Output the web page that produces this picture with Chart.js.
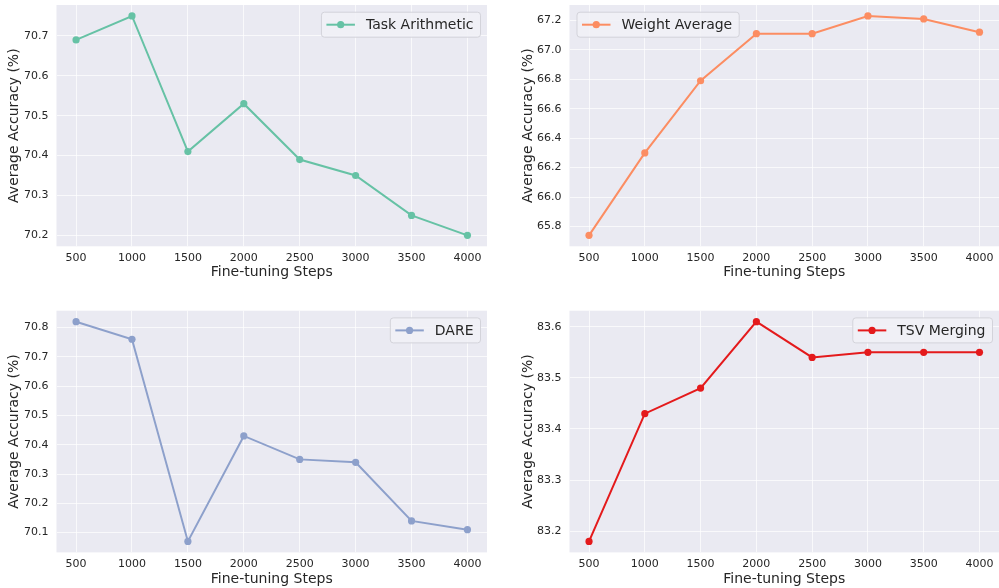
<!DOCTYPE html>
<html>
<head>
<meta charset="utf-8">
<script src="https://cdn.jsdelivr.net/npm/chart.js@4.4.1/dist/chart.umd.min.js"></script>
<style>
  html, body { margin: 0; padding: 0; background: #ffffff; }
  #page { position: relative; width: 999px; height: 588px; overflow: hidden; }
  .panel { position: absolute; }
  .panel canvas { display: block; }
</style>
</head>
<body>
<div id="page"></div>
<script>
// Fine-tuning steps (x values and x tick labels)
const steps = [500, 1000, 1500, 2000, 2500, 3000, 3500, 4000];

// Average accuracy (%) per merging method
const taskArithmetic = [70.69, 70.75, 70.41, 70.53, 70.39, 70.35, 70.25, 70.20];
const weightAverage  = [65.74, 66.30, 66.79, 67.11, 67.11, 67.23, 67.21, 67.12];
const dare           = [70.82, 70.76, 70.07, 70.43, 70.35, 70.34, 70.14, 70.11];
const tsvMerging     = [83.18, 83.43, 83.48, 83.61, 83.54, 83.55, 83.55, 83.55];

// Y tick labels for each panel
const ticksTaskArithmetic = [70.2, 70.3, 70.4, 70.5, 70.6, 70.7];
const ticksWeightAverage  = [65.8, 66.0, 66.2, 66.4, 66.6, 66.8, 67.0, 67.2];
const ticksDare           = [70.1, 70.2, 70.3, 70.4, 70.5, 70.6, 70.7, 70.8];
const ticksTsvMerging     = [83.2, 83.3, 83.4, 83.5, 83.6];

const FONT = "'DejaVu Sans', 'Liberation Sans', sans-serif";
const TEXT = '#262626';
const LABEL_SIZE = 14;
const TICK_SIZE = 11;
const GRID = 'rgba(255,255,255,0.7)';

// 5% padding around the data range, like matplotlib's default margins
function padded(values, frac) {
  const lo = Math.min(...values), hi = Math.max(...values);
  const m = (hi - lo) * frac;
  return [lo - m, hi + m];
}

// Panel geometry: canvas box and plotting area (page coordinates)
const panels = [
  { label: 'Task Arithmetic', values: taskArithmetic, yTicks: ticksTaskArithmetic, dec: 1,
    color: '#66c2a5', legend: 'right',
    box: { x: 0, y: 0, w: 495, h: 292 }, area: { l: 56.5, t: 5, r: 487, b: 246.3 },
    yTitleCenter: 14.3, xTitleCenter: 272.7 },
  { label: 'Weight Average', values: weightAverage, yTicks: ticksWeightAverage, dec: 1,
    color: '#fc8d62', legend: 'left',
    box: { x: 500, y: 0, w: 499, h: 292 }, area: { l: 569.5, t: 5, r: 999, b: 246.3 },
    yTitleCenter: 528.3, xTitleCenter: 272.7 },
  { label: 'DARE', values: dare, yTicks: ticksDare, dec: 1,
    color: '#8da0cb', legend: 'right',
    box: { x: 0, y: 292, w: 495, h: 296 }, area: { l: 56.5, t: 310.7, r: 487, b: 552.4 },
    yTitleCenter: 14.3, xTitleCenter: 579.3 },
  { label: 'TSV Merging', values: tsvMerging, yTicks: ticksTsvMerging, dec: 1,
    color: '#e41a1c', legend: 'right',
    box: { x: 500, y: 292, w: 499, h: 296 }, area: { l: 569.5, t: 310.7, r: 999, b: 552.4 },
    yTitleCenter: 528.3, xTitleCenter: 579.3 }
];

// Axes background fill
const axesBackground = {
  id: 'axesBackground',
  beforeDraw(chart) {
    const { ctx, chartArea: a } = chart;
    ctx.save();
    ctx.fillStyle = '#eaeaf2';
    ctx.fillRect(a.left, a.top, a.right - a.left, a.bottom - a.top);
    ctx.restore();
  }
};

// Legend drawn inside the plotting area, in an upper corner
const innerLegend = {
  id: 'innerLegend',
  afterDatasetsDraw(chart, args, opts) {
    const { ctx, chartArea: a } = chart;
    const ds = chart.data.datasets[0];
    ctx.save();
    ctx.font = LABEL_SIZE + 'px ' + FONT;
    const tw = ctx.measureText(ds.label).width;
    const padL = 5.5, sample = 28.5, gap = 11, padR = 6.5, h = 25, inset = 7;
    const w = padL + sample + gap + tw + padR;
    const x = opts.side === 'left' ? a.left + inset : a.right - inset - w;
    const y = a.top + 6.7;
    ctx.beginPath();
    ctx.roundRect(x + 0.5, y + 0.5, w, h, 3);
    ctx.fillStyle = 'rgba(241,241,246,0.9)';
    ctx.fill();
    ctx.strokeStyle = '#d3d3da';
    ctx.lineWidth = 1;
    ctx.stroke();
    const cy = y + h / 2 + 0.5;
    ctx.beginPath();
    ctx.moveTo(x + padL, cy);
    ctx.lineTo(x + padL + sample, cy);
    ctx.strokeStyle = ds.borderColor;
    ctx.lineWidth = 2;
    ctx.stroke();
    ctx.beginPath();
    ctx.arc(x + padL + sample / 2, cy, 3.6, 0, Math.PI * 2);
    ctx.fillStyle = ds.borderColor;
    ctx.fill();
    ctx.fillStyle = TEXT;
    ctx.textBaseline = 'middle';
    ctx.textAlign = 'left';
    ctx.fillText(ds.label, x + padL + sample + gap, cy + 0.5);
    ctx.restore();
  }
};

const page = document.getElementById('page');
const xRange = padded(steps, 0.05);

panels.forEach(p => {
  const div = document.createElement('div');
  div.className = 'panel';
  div.style.left = p.box.x + 'px';
  div.style.top = p.box.y + 'px';
  div.style.width = p.box.w + 'px';
  div.style.height = p.box.h + 'px';
  const canvas = document.createElement('canvas');
  canvas.width = p.box.w;
  canvas.height = p.box.h;
  canvas.style.width = p.box.w + 'px';
  canvas.style.height = p.box.h + 'px';
  div.appendChild(canvas);
  page.appendChild(div);

  const yAxisWidth = p.area.l - p.box.x;
  const xAxisHeight = p.box.y + p.box.h - p.area.b;
  const padTop = p.area.t - p.box.y;
  const padRight = p.box.x + p.box.w - p.area.r;
  const yRange = padded(p.values, 0.05);
  const titleLH = LABEL_SIZE * 1.2;

  new Chart(canvas, {
    type: 'line',
    data: {
      datasets: [{
        label: p.label,
        data: steps.map((s, i) => ({ x: s, y: p.values[i] })),
        borderColor: p.color,
        backgroundColor: p.color,
        pointBackgroundColor: p.color,
        pointBorderColor: p.color,
        borderWidth: 2,
        pointRadius: 3.6,
        pointBorderWidth: 0,
        tension: 0,
        fill: false,
        clip: false
      }]
    },
    options: {
      responsive: false,
      maintainAspectRatio: false,
      animation: false,
      devicePixelRatio: 1,
      layout: { autoPadding: false, padding: { top: padTop, right: padRight, left: 0, bottom: 0 } },
      plugins: {
        legend: { display: false },
        tooltip: { enabled: false },
        innerLegend: { side: p.legend }
      },
      scales: {
        x: {
          type: 'linear',
          min: xRange[0],
          max: xRange[1],
          afterBuildTicks: s => { s.ticks = steps.map(v => ({ value: v })); },
          afterFit: s => {
            s.height = xAxisHeight;
            s.paddingLeft = 0; s.paddingRight = 0;
          },
          grid: { color: GRID, lineWidth: 1, drawTicks: false },
          border: { display: false },
          ticks: {
            padding: 5,
            maxRotation: 0,
            autoSkip: false,
            color: TEXT,
            font: { family: FONT, size: TICK_SIZE },
            callback: v => String(v)
          },
          title: {
            display: true,
            text: 'Fine-tuning Steps',
            color: TEXT,
            font: { family: FONT, size: LABEL_SIZE, lineHeight: 1.2 },
            padding: { top: 0, bottom: (p.box.y + p.box.h) - p.xTitleCenter - titleLH / 2 }
          }
        },
        y: {
          type: 'linear',
          min: yRange[0],
          max: yRange[1],
          afterBuildTicks: s => { s.ticks = p.yTicks.map(v => ({ value: v })); },
          afterFit: s => {
            s.width = yAxisWidth;
            s.paddingTop = 0; s.paddingBottom = 0;
          },
          grid: { color: GRID, lineWidth: 1, drawTicks: false },
          border: { display: false },
          ticks: {
            padding: 8,
            autoSkip: false,
            color: TEXT,
            font: { family: FONT, size: TICK_SIZE },
            callback: v => Number(v).toFixed(p.dec)
          },
          title: {
            display: true,
            text: 'Average Accuracy (%)',
            color: TEXT,
            font: { family: FONT, size: LABEL_SIZE, lineHeight: 1.2 },
            padding: { top: p.yTitleCenter - p.box.x - titleLH / 2, bottom: 0 }
          }
        }
      }
    },
    plugins: [axesBackground, innerLegend]
  });
});
</script>
</body>
</html>
